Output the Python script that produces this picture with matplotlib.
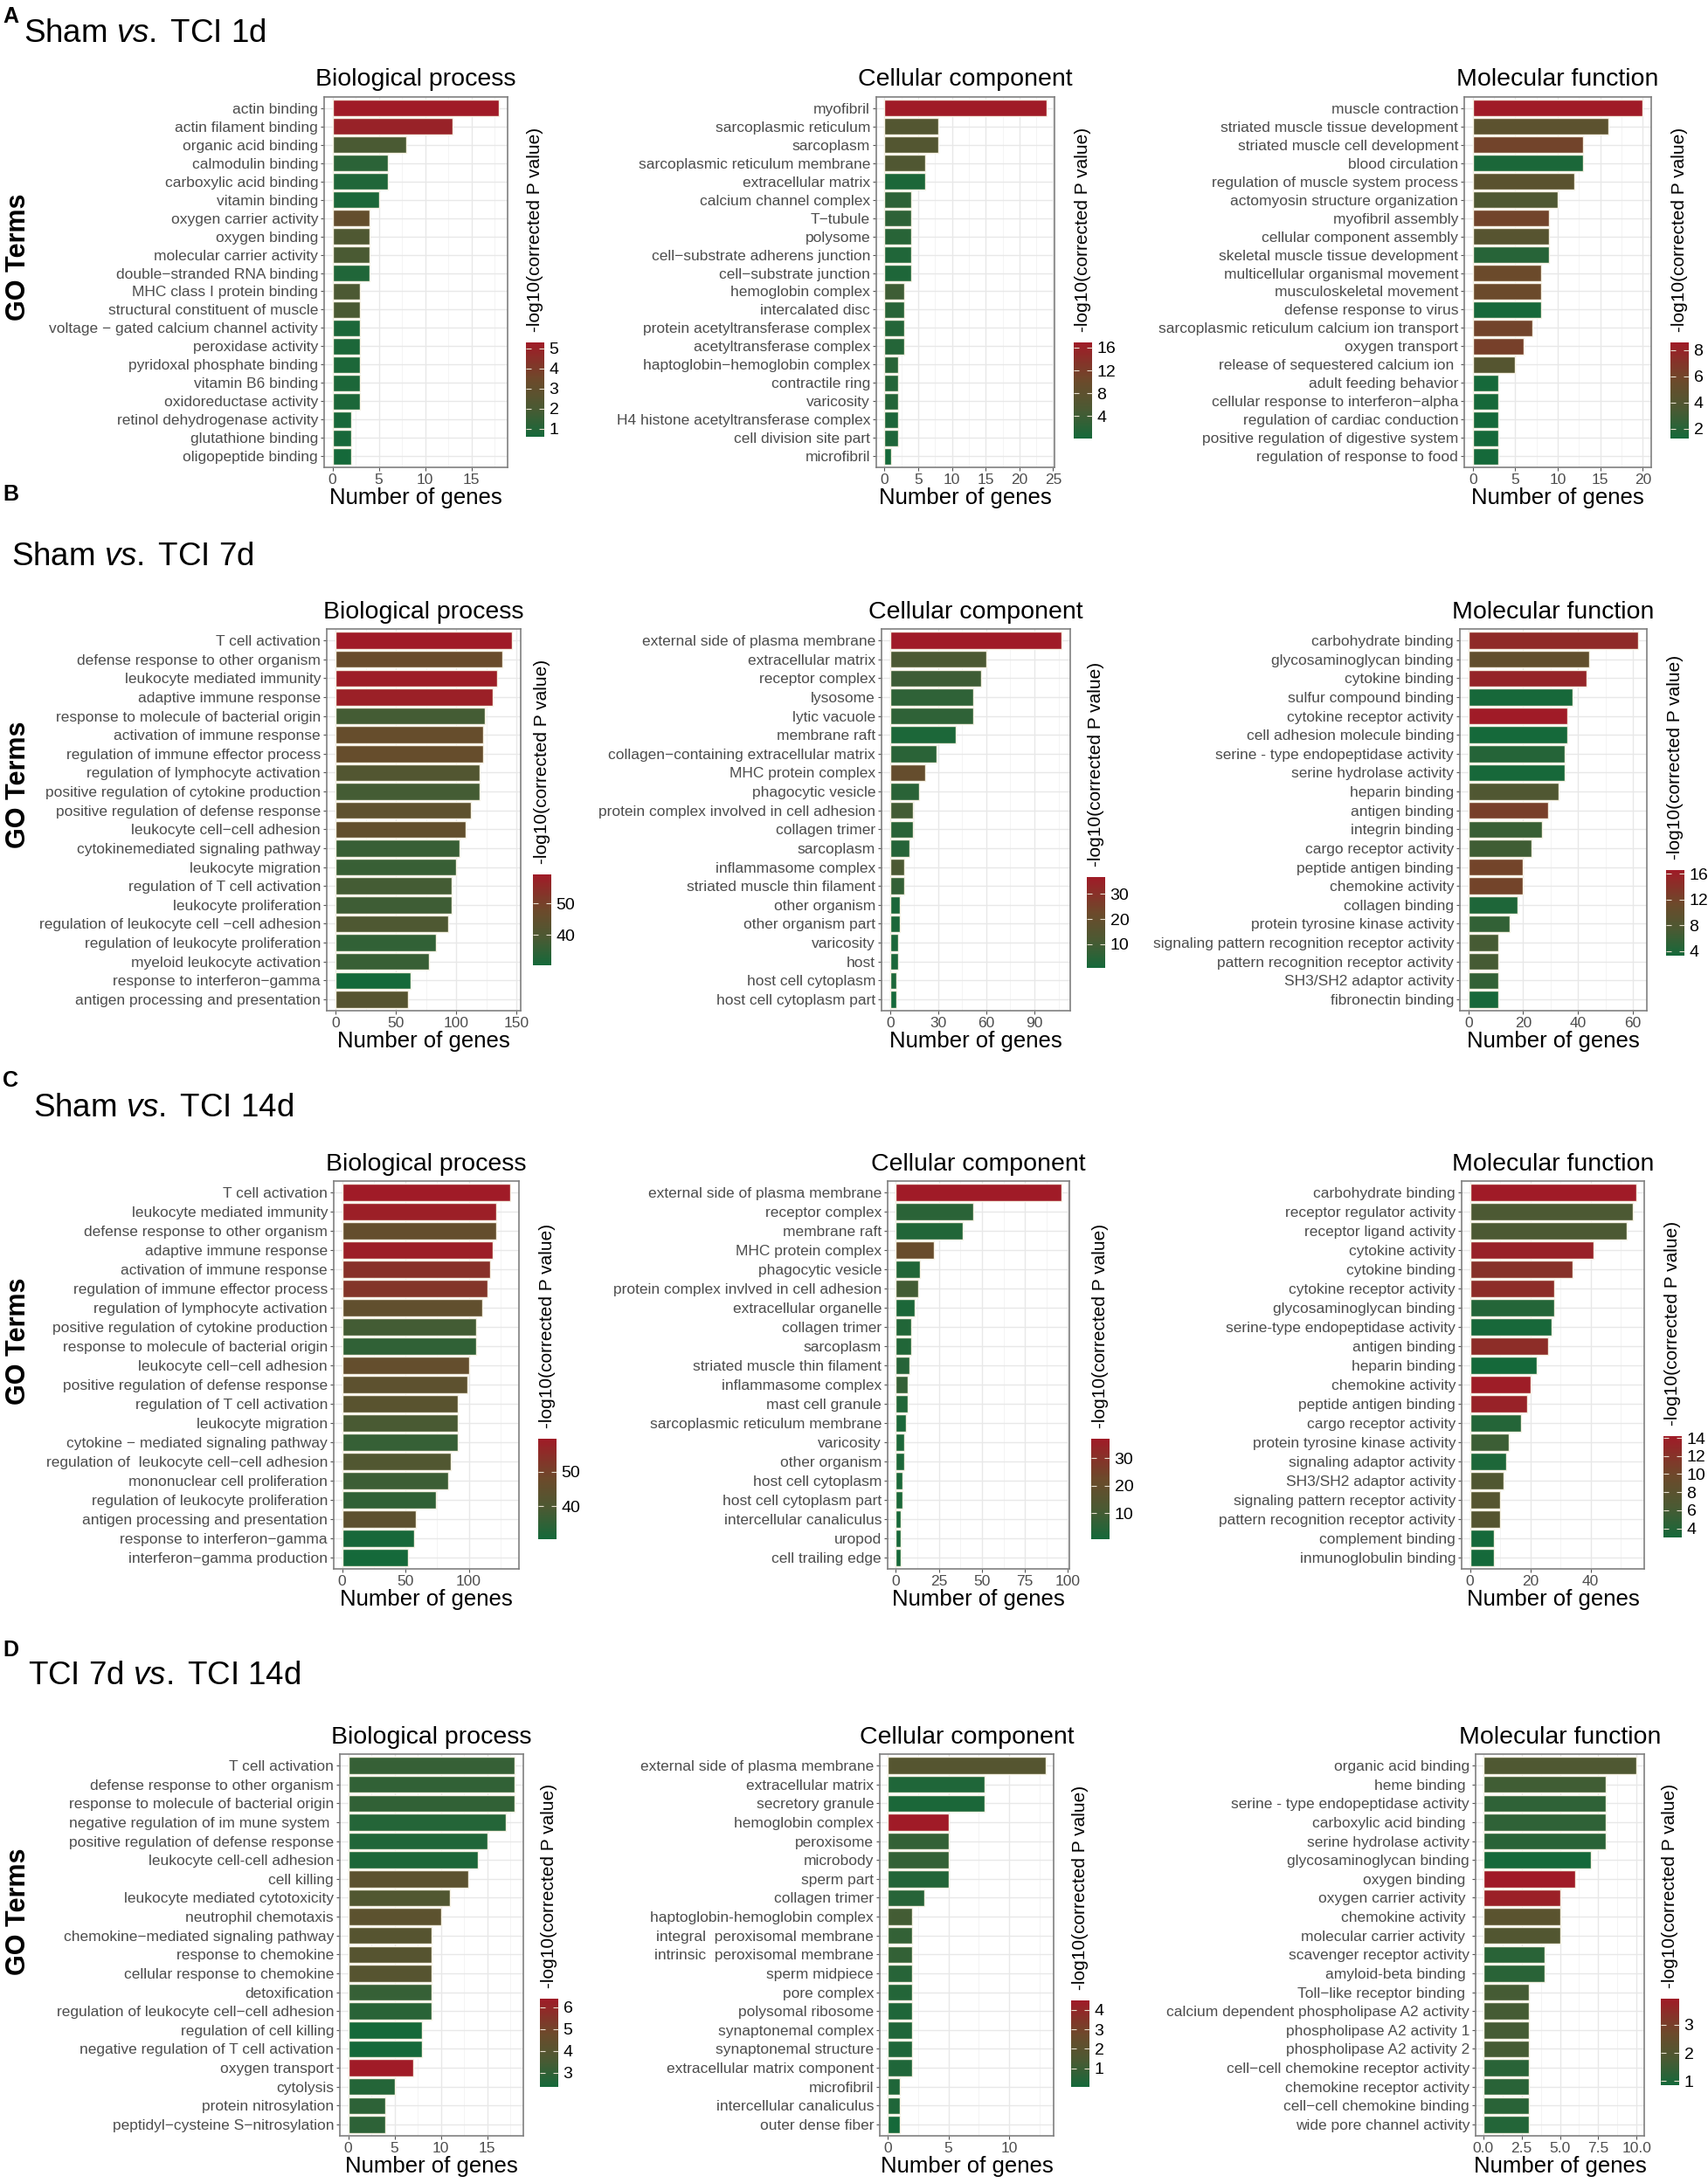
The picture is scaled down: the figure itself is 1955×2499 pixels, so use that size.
import matplotlib
matplotlib.use("Agg")
import matplotlib.pyplot as plt
import numpy as np
from matplotlib.colors import LinearSegmentedColormap, Normalize
from matplotlib.cm import ScalarMappable
from matplotlib.ticker import MultipleLocator, FormatStrFormatter

plt.rcParams['font.family'] = ['Liberation Sans', 'DejaVu Sans']
plt.rcParams['mathtext.fontset'] = 'custom'
plt.rcParams['mathtext.rm'] = 'Liberation Sans'
plt.rcParams['mathtext.it'] = 'Liberation Sans:italic'

# ---------------- data ----------------
# A: Sham vs. TCI 1d
a_bp_terms = ['actin binding', 'actin filament binding', 'organic acid binding', 'calmodulin binding',
              'carboxylic acid binding', 'vitamin binding', 'oxygen carrier activity', 'oxygen binding',
              'molecular carrier activity', 'double\u2212stranded RNA binding', 'MHC class I protein binding',
              'structural constituent of muscle', 'voltage \u2212 gated calcium channel activity',
              'peroxidase activity', 'pyridoxal phosphate binding', 'vitamin B6 binding',
              'oxidoreductase activity', 'retinol dehydrogenase activity', 'glutathione binding',
              'oligopeptide binding']
a_bp_genes = [18, 13, 8, 6, 6, 5, 4, 4, 4, 4, 3, 3, 3, 3, 3, 3, 3, 2, 2, 2]
a_bp_logp = [5.3, 5.0, 2.0, 1.2, 0.9, 0.8, 3.1, 2.2, 2.0, 0.9, 2.1, 2.0, 0.8, 0.8, 0.8, 0.8, 0.8, 0.7, 0.7, 0.6]

a_cc_terms = ['myofibril', 'sarcoplasmic reticulum', 'sarcoplasm', 'sarcoplasmic reticulum membrane',
              'extracellular matrix', 'calcium channel complex', 'T\u2212tubule', 'polysome',
              'cell\u2212substrate adherens junction', 'cell\u2212substrate junction', 'hemoglobin complex',
              'intercalated disc', 'protein acetyltransferase complex', 'acetyltransferase complex',
              'haptoglobin\u2212hemoglobin complex', 'contractile ring', 'varicosity',
              'H4 histone acetyltransferase complex', 'cell division site part', 'microfibril']
a_cc_genes = [24, 8, 8, 6, 6, 4, 4, 4, 4, 4, 3, 3, 3, 3, 2, 2, 2, 2, 2, 1]
a_cc_logp = [16.9, 6.5, 6.5, 6.0, 0.8, 2.5, 2.5, 2.0, 1.2, 1.0, 4.0, 2.0, 1.5, 1.5, 2.0, 1.5, 1.5, 1.0, 1.0, 0.1]

a_mf_terms = ['muscle contraction', 'striated muscle tissue development', 'striated muscle cell development',
              'blood circulation', 'regulation of muscle system process', 'actomyosin structure organization',
              'myofibril assembly', 'cellular component assembly', 'skeletal muscle tissue development',
              'multicellular organismal movement', 'musculoskeletal movement', 'defense response to virus',
              'sarcoplasmic reticulum calcium ion transport', 'oxygen transport',
              'release of sequestered calcium ion ', 'adult feeding behavior',
              'cellular response to interferon\u2212alpha', 'regulation of cardiac conduction',
              'positive regulation of digestive system', 'regulation of response to food']
a_mf_genes = [20, 16, 13, 13, 12, 10, 9, 9, 9, 8, 8, 8, 7, 6, 5, 3, 3, 3, 3, 3]
a_mf_logp = [8.6, 4.6, 6.0, 1.5, 4.5, 3.8, 6.0, 4.3, 2.0, 5.6, 5.6, 1.4, 6.0, 6.3, 4.2, 1.3, 1.3, 1.3, 1.3, 1.25]

# B: Sham vs. TCI 7d
b_bp_terms = ['T cell activation', 'defense response to other organism', 'leukocyte mediated immunity',
              'adaptive immune response', 'response to molecule of bacterial origin',
              'activation of immune response', 'regulation of immune effector process',
              'regulation of lymphocyte activation', 'positive regulation of cytokine production',
              'positive regulation of defense response', 'leukocyte cell\u2212cell adhesion',
              'cytokinemediated signaling pathway', 'leukocyte migration', 'regulation of T cell activation',
              'leukocyte proliferation', 'regulation of leukocyte cell \u2212cell adhesion',
              'regulation of leukocyte proliferation', 'myeloid leukocyte activation',
              'response to interferon\u2212gamma', 'antigen processing and presentation']
b_bp_genes = [146, 138, 134, 130, 124, 122, 122, 119, 119, 112, 108, 103, 100, 96, 96, 93, 83, 77, 62, 60]
b_bp_logp = [59.2, 47, 58.5, 58, 38, 46, 46, 41, 38, 44, 45, 36, 36, 38, 37, 40, 35, 36, 30.3, 42]

b_cc_terms = ['external side of plasma membrane', 'extracellular matrix', 'receptor complex', 'lysosome',
              'lytic vacuole', 'membrane raft', 'collagen\u2212containing extracellular matrix',
              'MHC protein complex', 'phagocytic vesicle', 'protein complex involved in cell adhesion',
              'collagen trimer', 'sarcoplasm', 'inflammasome complex', 'striated muscle thin filament',
              'other organism', 'other organism part', 'varicosity', 'host', 'host cell cytoplasm',
              'host cell cytoplasm part']
b_cc_genes = [107, 60, 57, 52, 52, 41, 29, 22, 18, 14, 14, 12, 9, 9, 6, 6, 5, 5, 4, 4]
b_cc_logp = [36.8, 12, 9, 6, 6, 2, 5, 20, 5, 10, 5, 4, 12, 7, 2, 2, 2, 2, 2, 0.5]

b_mf_terms = ['carbohydrate binding', 'glycosaminoglycan binding', 'cytokine binding',
              'sulfur compound binding', 'cytokine receptor activity', 'cell adhesion molecule binding',
              'serine - type endopeptidase activity', 'serine hydrolase activity', 'heparin binding',
              'antigen binding', 'integrin binding', 'cargo receptor activity', 'peptide antigen binding',
              'chemokine activity', 'collagen binding', 'protein tyrosine kinase activity',
              'signaling pattern recognition receptor activity', 'pattern recognition receptor activity',
              'SH3/SH2 adaptor activity', 'fibronectin binding']
b_mf_genes = [62, 44, 43, 38, 36, 36, 35, 35, 33, 29, 27, 23, 20, 20, 18, 15, 11, 11, 11, 11]
b_mf_logp = [14.8, 10, 15.5, 3.5, 16.6, 3.3, 4.5, 3.5, 8, 12.5, 6, 6.5, 12, 12, 4, 5.5, 7, 7, 5.5, 3.5]

# C: Sham vs. TCI 14d
c_bp_terms = ['T cell activation', 'leukocyte mediated immunity', 'defense response to other organism',
              'adaptive immune response', 'activation of immune response',
              'regulation of immune effector process', 'regulation of lymphocyte activation',
              'positive regulation of cytokine production', 'response to molecule of bacterial origin',
              'leukocyte cell\u2212cell adhesion', 'positive regulation of defense response',
              'regulation of T cell activation', 'leukocyte migration',
              'cytokine \u2212 mediated signaling pathway', 'regulation of  leukocyte cell\u2212cell adhesion',
              'mononuclear cell proliferation', 'regulation of leukocyte proliferation',
              'antigen processing and presentation', 'response to interferon\u2212gamma',
              'interferon\u2212gamma production']
c_bp_genes = [133, 122, 122, 119, 117, 115, 111, 106, 106, 100, 99, 91, 91, 91, 86, 84, 74, 58, 57, 52]
c_bp_logp = [59.5, 58.5, 46, 58.5, 54, 53, 45, 38, 35, 46, 44, 43, 39, 36, 41, 37, 35, 44, 31, 30.5]

c_cc_terms = ['external side of plasma membrane', 'receptor complex', 'membrane raft', 'MHC protein complex',
              'phagocytic vesicle', 'protein complex invlved in cell adhesion', 'extracellular organelle',
              'collagen trimer', 'sarcoplasm', 'striated muscle thin filament', 'inflammasome complex',
              'mast cell granule', 'sarcoplasmic reticulum membrane', 'varicosity', 'other organism',
              'host cell cytoplasm', 'host cell cytoplasm part', 'intercellular canaliculus', 'uropod',
              'cell trailing edge']
c_cc_genes = [96, 45, 39, 22, 14, 13, 11, 9, 9, 8, 7, 7, 6, 5, 5, 4, 4, 3, 3, 3]
c_cc_logp = [37, 5, 3, 21, 3, 10, 2, 3, 3, 4, 7, 3, 2, 2, 2, 1.5, 1.5, 1, 1, 0.5]

c_mf_terms = ['carbohydrate binding', 'receptor regulator activity', 'receptor ligand activity',
              'cytokine activity', 'cytokine binding', 'cytokine receptor activity',
              'glycosaminoglycan binding', 'serine-type endopeptidase activity', 'antigen binding',
              'heparin binding', 'chemokine activity', 'peptide antigen binding', 'cargo receptor activity',
              'protein tyrosine kinase activity', 'signaling adaptor activity', 'SH3/SH2 adaptor activity',
              'signaling pattern receptor activity', 'pattern recognition receptor activity',
              'complement binding', 'inmunoglobulin binding']
c_mf_genes = [55, 54, 52, 41, 34, 28, 28, 27, 26, 22, 20, 19, 17, 13, 12, 11, 10, 10, 8, 8]
c_mf_logp = [14.2, 6.5, 6.5, 13.5, 12, 12.5, 4, 3.2, 12.5, 3, 14, 13.5, 4, 5.5, 3.5, 7, 7.5, 7.5, 3, 3]

# D: TCI 7d vs. TCI 14d
d_bp_terms = ['T cell activation', 'defense response to other organism',
              'response to molecule of bacterial origin', 'negative regulation of im mune system ',
              'positive regulation of defense response', 'leukocyte cell-cell adhesion', 'cell killing',
              'leukocyte mediated cytotoxicity', 'neutrophil chemotaxis',
              'chemokine\u2212mediated signaling pathway', 'response to chemokine',
              'cellular response to chemokine', 'detoxification',
              'regulation of leukocyte cell\u2212cell adhesion', 'regulation of cell killing',
              'negative regulation of T cell activation', 'oxygen transport', 'cytolysis',
              'protein nitrosylation', 'peptidyl\u2212cysteine S\u2212nitrosylation']
d_bp_genes = [18, 18, 18, 17, 15, 14, 13, 11, 10, 9, 9, 9, 9, 9, 8, 8, 7, 5, 4, 4]
d_bp_logp = [3.1, 3.0, 3.0, 2.7, 2.6, 2.5, 4.2, 3.8, 4.2, 4.0, 4.0, 4.0, 3.1, 2.8, 2.34, 2.34, 6.4, 2.7, 2.9, 2.9]

d_cc_terms = ['external side of plasma membrane', 'extracellular matrix', 'secretory granule',
              'hemoglobin complex', 'peroxisome', 'microbody', 'sperm part', 'collagen trimer',
              'haptoglobin-hemoglobin complex', 'integral  peroxisomal membrane',
              'intrinsic  peroxisomal membrane', 'sperm midpiece', 'pore complex', 'polysomal ribosome',
              'synaptonemal complex', 'synaptonemal structure', 'extracellular matrix component',
              'microfibril', 'intercellular canaliculus', 'outer dense fiber']
d_cc_genes = [13, 8, 8, 5, 5, 5, 5, 3, 2, 2, 2, 2, 2, 2, 2, 2, 2, 1, 1, 1]
d_cc_logp = [1.8, 0.3, 0.2, 4.48, 0.8, 0.8, 0.4, 0.5, 1.2, 0.8, 0.8, 0.5, 0.4, 0.3, 0.3, 0.3, 0.3, 0.3, 0.3, 0.05]

d_mf_terms = ['organic acid binding', 'heme binding ', 'serine - type endopeptidase activity',
              'carboxylic acid binding ', 'serine hydrolase activity', 'glycosaminoglycan binding',
              'oxygen binding ', 'oxygen carrier activity ', 'chemokine activity ',
              'molecular carrier activity ', 'scavenger receptor activity', 'amyloid-beta binding ',
              'Toll\u2212like receptor binding ', 'calcium dependent phospholipase A2 activity',
              'phospholipase A2 activity 1', 'phospholipase A2 activity 2',
              'cell\u2212cell chemokine receptor activity', 'chemokine receptor activity',
              'cell\u2212cell chemokine binding', 'wide pore channel activity']
d_mf_genes = [10, 8, 8, 8, 8, 7, 6, 5, 5, 5, 4, 4, 3, 3, 3, 3, 3, 3, 3, 3]
d_mf_logp = [1.9, 1.6, 1.3, 1.3, 1.2, 0.85, 3.93, 3.8, 2.2, 2.0, 1.2, 1.2, 1.7, 1.7, 1.7, 1.7, 1.2, 1.2, 1.2, 1.1]

row_titles = ['Sham $\\mathit{vs.}\\;$TCI 1d', 'Sham $\\mathit{vs.}\\;$TCI 7d',
              'Sham $\\mathit{vs.}\\;$TCI 14d', 'TCI 7d $\\mathit{vs.}\\;$TCI 14d']
row_letters = ['A', 'B', 'C', 'D']
panel_titles = ['Biological process', 'Cellular component', 'Molecular function']

# labels drawn in a narrower face in the original
small_labels = {'voltage \u2212 gated calcium channel activity', 'cellular component assembly',
                'release of sequestered calcium ion ', 'protein tyrosine kinase activity',
                'signaling pattern recognition receptor activity'}

# ---------------- layout (pixels) ----------------
W, H = 1955, 2499
fig = plt.figure(figsize=(W / 100, H / 100), dpi=100)


def px_box(l, t, r, b):
    return [l / W, 1 - b / H, (r - l) / W, (b - t) / H]


cmap = LinearSegmentedColormap.from_list(
    'gr', [(0.0, '#15693A'), (0.3, '#4A5A33'), (0.6, '#6C4A2B'), (1.0, '#A01B27')])

row_y = [(111, 535), (720, 1157), (1352, 1796), (2008, 2445)]
ax_x = [[(371, 581), (1003, 1207), (1676, 1890)],
        [(374, 596), (1009, 1225), (1671, 1885)],
        [(382, 594), (1016, 1224), (1673, 1882)],
        [(389, 599), (1007, 1206), (1689, 1882)]]
cbar_pos = [[(602, 392, 500), (1229, 392, 502), (1912, 392, 502)],
            [(610, 1001, 1105), (1244, 1004, 1108), (1907, 996, 1094)],
            [(616, 1647, 1762), (1249, 1647, 1762), (1904, 1644, 1760)],
            [(618, 2288, 2389), (1226, 2290, 2389), (1901, 2288, 2387)]]
x_steps = [[5, 5, 5], [50, 30, 20], [50, 25, 20], [5, 5, 2.5]]
c_steps = [[1, 4, 2], [10, 10, 4], [10, 10, 2], [1, 1, 1]]
title_xy = [(27, 39), (13, 638), (38, 1268), (32, 1919)]
letter_xy = [(3, 19), (3, 566), (3, 1237), (3, 1889)]
goterm_y = [294, 898, 1535, 2188]

panels = [
    [(a_bp_terms, a_bp_genes, a_bp_logp), (a_cc_terms, a_cc_genes, a_cc_logp), (a_mf_terms, a_mf_genes, a_mf_logp)],
    [(b_bp_terms, b_bp_genes, b_bp_logp), (b_cc_terms, b_cc_genes, b_cc_logp), (b_mf_terms, b_mf_genes, b_mf_logp)],
    [(c_bp_terms, c_bp_genes, c_bp_logp), (c_cc_terms, c_cc_genes, c_cc_logp), (c_mf_terms, c_mf_genes, c_mf_logp)],
    [(d_bp_terms, d_bp_genes, d_bp_logp), (d_cc_terms, d_cc_genes, d_cc_logp), (d_mf_terms, d_mf_genes, d_mf_logp)],
]


def draw_panel(terms, genes, logp, title, box, cbox, xstep, cstep):
    ax = fig.add_axes(px_box(*box))
    n = len(terms)
    y = np.arange(n, 0, -1)
    norm = Normalize(min(logp), max(logp))
    ax.barh(y, genes, height=0.9, color=cmap(norm(np.array(logp))),
            edgecolor='#f6f1e2', linewidth=1.0, zorder=3)
    gmax = max(genes)
    ax.set_xlim(-0.05 * gmax, 1.05 * gmax)
    ax.set_ylim(0.4, n + 0.6)
    ax.xaxis.set_major_locator(MultipleLocator(xstep))
    ax.xaxis.set_minor_locator(MultipleLocator(xstep / 2))
    if xstep == 2.5:
        ax.xaxis.set_major_formatter(FormatStrFormatter('%.1f'))
    ax.set_yticks(y)
    ax.set_yticklabels(terms)
    for lab in ax.get_yticklabels():
        if lab.get_text() in small_labels:
            lab.set_fontsize(11)
    ax.set_axisbelow(True)
    ax.grid(True, which='major', color='#e8e8e8', lw=1.0)
    ax.grid(True, which='minor', axis='x', color='#f2f2f2', lw=0.6)
    for s in ax.spines.values():
        s.set_color('#808080')
        s.set_linewidth(1.2)
    ax.tick_params(axis='y', labelsize=12.5, labelcolor='#4d4d4d', length=3, color='#555555', pad=2)
    ax.tick_params(axis='x', labelsize=12.5, labelcolor='#4d4d4d', length=3, color='#555555', pad=2)
    ax.tick_params(which='minor', length=0)
    ax.set_title(title, fontsize=20.5, pad=9)
    ax.set_xlabel('Number of genes', fontsize=18.5, labelpad=1)

    cl, ct, cb_ = cbox
    cax = fig.add_axes(px_box(cl, ct, cl + 21, cb_))
    cb = fig.colorbar(ScalarMappable(norm=norm, cmap=cmap), cax=cax)
    cb.outline.set_visible(False)
    cb.set_ticks(MultipleLocator(cstep))
    cax.tick_params(left=True, right=True, labelleft=False, labelright=True, direction='in',
                    length=4, width=0.8, color='#e8e0d0', labelsize=14, pad=4)
    fig.text((cl + 10.5) / W, 1 - (ct - 12) / H, '-log10(corrected P value)', rotation=90,
             ha='center', va='bottom', fontsize=15)


for r in range(4):
    for c in range(3):
        terms, genes, logp = panels[r][c]
        box = (ax_x[r][c][0], row_y[r][0], ax_x[r][c][1], row_y[r][1])
        draw_panel(terms, genes, logp, panel_titles[c], box, cbar_pos[r][c], x_steps[r][c], c_steps[r][c])
    fig.text(title_xy[r][0] / W, 1 - title_xy[r][1] / H, row_titles[r], fontsize=26.5,
             ha='left', va='center')
    fig.text(letter_xy[r][0] / W, 1 - letter_xy[r][1] / H, row_letters[r], fontsize=18,
             fontweight='bold', ha='left', va='center')
    fig.text(21 / W, 1 - goterm_y[r] / H, 'GO Terms', rotation=90, fontsize=22,
             fontweight='bold', ha='center', va='center')

fig.savefig('out.png', dpi=100, facecolor='white')
